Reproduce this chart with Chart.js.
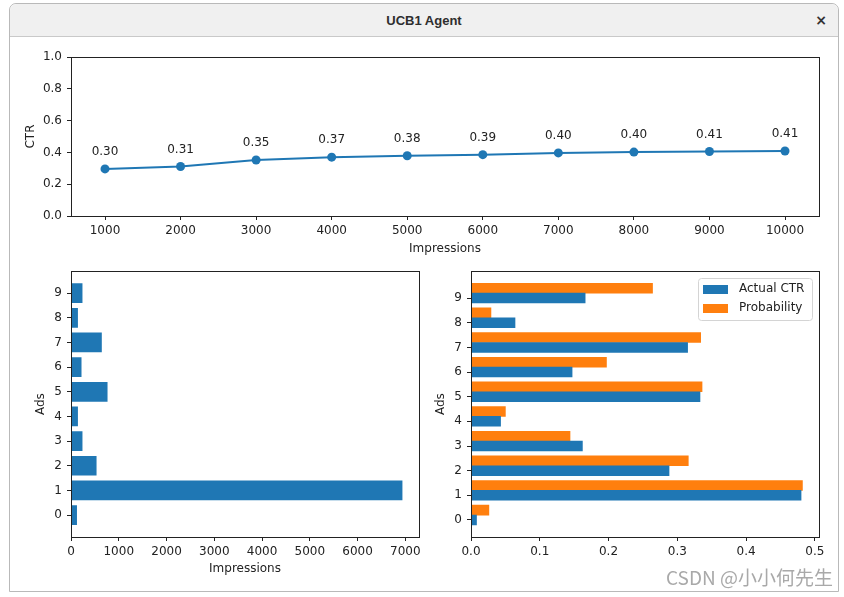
<!DOCTYPE html>
<html><head><meta charset="utf-8">
<script src="https://cdn.jsdelivr.net/npm/chart.js@4/dist/chart.umd.min.js"></script>
<style>
html,body{margin:0;padding:0;background:#fff;width:844px;height:597px;overflow:hidden;}
#win{position:absolute;left:9px;top:3px;width:830px;height:589px;border:1px solid #b9b9b9;border-radius:7px 7px 0 0;background:#fff;box-sizing:border-box;}
#bar{position:absolute;left:0;top:0;right:0;height:32px;background:#f0f0f0;border-bottom:1px solid #c9c9c9;border-radius:7px 7px 0 0;}
#title{position:absolute;left:0;right:0;top:0;height:32px;text-align:center;font:bold 13px "Liberation Sans";line-height:33px;color:#2e2e2e;}
#close{position:absolute;right:11px;top:0;font:bold 14px "DejaVu Sans";line-height:33px;color:#333;}
canvas{position:absolute;}
#wm{position:absolute;right:11px;top:563px;font:19px "Noto Sans CJK SC";color:#a9a9a9;white-space:nowrap;}
</style></head>
<body>
<div id="win"><div id="bar"><div id="title">UCB1 Agent</div><div id="close">×</div></div></div>
<canvas id="c1" width="844" height="220" style="left:0;top:40px"></canvas>
<canvas id="c2" width="430" height="321" style="left:0;top:259px"></canvas>
<canvas id="c3" width="414" height="321" style="left:430px;top:259px"></canvas>
<div id="wm">CSDN @小小何先生</div>
<script>
// ---- data ----
const impressionSteps = [1000, 2000, 3000, 4000, 5000, 6000, 7000, 8000, 9000, 10000];
const ctrValues = [0.296, 0.311, 0.352, 0.370, 0.379, 0.386, 0.397, 0.402, 0.406, 0.409];
const ctrLabels = ['0.30', '0.31', '0.35', '0.37', '0.38', '0.39', '0.40', '0.40', '0.41', '0.41'];
const ctrAxisTicks = [0, 0.2, 0.4, 0.6, 0.8, 1.0];
const adLabels = ['0', '1', '2', '3', '4', '5', '6', '7', '8', '9'];
const adImpressions = [125, 6940, 535, 240, 145, 765, 220, 645, 145, 240];
const actualCtr = [0.008, 0.480, 0.288, 0.162, 0.043, 0.333, 0.147, 0.315, 0.064, 0.166];
const probability = [0.026, 0.482, 0.316, 0.144, 0.050, 0.336, 0.197, 0.334, 0.029, 0.264];
const seriesNames = ['Actual CTR', 'Probability'];
const impressionTicks = [0, 1000, 2000, 3000, 4000, 5000, 6000, 7000];
const ctrTicks = [0, 0.1, 0.2, 0.3, 0.4, 0.5];

const BLUE = '#1f77b4', ORANGE = '#ff7f0e', INK = '#222';
Chart.defaults.font.family = 'DejaVu Sans';
Chart.defaults.font.size = 12;
Chart.defaults.color = INK;

const framePlugin = {
  id: 'frame',
  afterDatasetsDraw(chart) {
    const {ctx, chartArea: a} = chart;
    const l = Math.round(a.left - 0.5) + 0.5, t = Math.round(a.top - 0.5) + 0.5;
    const r = Math.round(a.right - 0.5) + 0.5, b = Math.round(a.bottom - 0.5) + 0.5;
    ctx.save();
    ctx.strokeStyle = INK; ctx.lineWidth = 1;
    ctx.strokeRect(l, t, r - l, b - t);
    ctx.restore();
  }
};

function axisBase(title, padding, cb) {
  return {
    offset: false,
    border: {display: false},
    grid: {display: true, offset: false, drawOnChartArea: false, drawTicks: true, tickLength: 4, color: INK, lineWidth: 1},
    ticks: {color: INK, padding: padding, font: {size: 12}, autoSkip: false, maxRotation: 0, callback: cb},
    title: {display: !!title, text: title, color: INK, font: {size: 12}, padding: {top: 4, bottom: 4}}
  };
}
function margins(lo, hi) { const m = (hi - lo) * 0.05; return [lo - m, hi + m]; }
const asText = v => String(v);
const oneDec = v => Number(v).toFixed(1);
const adName = v => adLabels[Math.round(v)];

// ---- top: CTR line ----
const [x1min, x1max] = margins(impressionSteps[0], impressionSteps[impressionSteps.length - 1]);
const labelPlugin = {
  id: 'ptlabels',
  afterDatasetsDraw(chart) {
    const {ctx} = chart;
    const meta = chart.getDatasetMeta(0);
    ctx.save();
    ctx.font = '12px "DejaVu Sans"'; ctx.fillStyle = INK;
    ctx.textAlign = 'center'; ctx.textBaseline = 'middle';
    meta.data.forEach((pt, i) => ctx.fillText(ctrLabels[i], pt.x, pt.y - 17));
    ctx.restore();
  }
};
new Chart(document.getElementById('c1'), {
  type: 'line',
  data: {datasets: [{
    data: impressionSteps.map((x, i) => ({x: x, y: ctrValues[i]})),
    borderColor: BLUE, backgroundColor: BLUE, borderWidth: 2,
    pointRadius: 4.5, pointBorderWidth: 0, pointBackgroundColor: BLUE, tension: 0
  }]},
  options: {
    responsive: false, animation: false,
    layout: {padding: {left: 20, right: 25, top: 17, bottom: 0}},
    plugins: {legend: {display: false}, tooltip: {enabled: false}},
    scales: {
      x: Object.assign(axisBase('Impressions', 4, asText), {
        type: 'linear', min: x1min, max: x1max,
        afterBuildTicks: s => { s.ticks = impressionSteps.map(v => ({value: v})); },
        afterFit: s => { s.height = 44; }
      }),
      y: Object.assign(axisBase('CTR', 5, oneDec), {
        type: 'linear', min: 0, max: 1,
        afterBuildTicks: s => { s.ticks = ctrAxisTicks.map(v => ({value: v})); },
        afterFit: s => { s.width = 51; }
      })
    }
  },
  plugins: [framePlugin, labelPlugin]
});

// ---- bottom left: impressions per ad ----
new Chart(document.getElementById('c2'), {
  type: 'bar',
  data: {datasets: [{
    data: adImpressions.map((v, i) => ({x: v, y: i})),
    backgroundColor: BLUE, borderWidth: 0,
    categoryPercentage: 0.8, barPercentage: 1
  }]},
  options: {
    responsive: false, animation: false, indexAxis: 'y',
    layout: {padding: {left: 30, right: 11, top: 11, bottom: 0}},
    plugins: {legend: {display: false}, tooltip: {enabled: false}},
    scales: {
      x: Object.assign(axisBase('Impressions', 4, asText), {
        type: 'linear', min: 0, max: Math.max(...adImpressions) * 1.05,
        afterBuildTicks: s => { s.ticks = impressionTicks.map(v => ({value: v})); },
        afterFit: s => { s.height = 43; }
      }),
      y: Object.assign(axisBase('Ads', 5, adName), {
        type: 'linear', min: -0.4 - 0.49, max: adLabels.length - 1 + 0.4 + 0.49,
        afterBuildTicks: s => { s.ticks = adLabels.map((_, i) => ({value: i})); },
        afterFit: s => { s.width = 41; }
      })
    }
  },
  plugins: [framePlugin]
});

// ---- bottom right: actual CTR vs probability ----
const legendPlugin = {
  id: 'inlegend',
  afterDraw(chart) {
    const {ctx, chartArea: a} = chart;
    const ds = chart.data.datasets;
    ctx.save();
    ctx.font = '12px "DejaVu Sans"';
    const tw = Math.max(...ds.map(d => ctx.measureText(d.label).width));
    const w = Math.round(41 + tw + 8), h = 42;
    const x = Math.round(a.right - 7 - w), y = Math.round(a.top + 7);
    ctx.fillStyle = 'rgba(255,255,255,0.8)';
    ctx.strokeStyle = '#d4d4d4'; ctx.lineWidth = 1;
    ctx.beginPath();
    if (ctx.roundRect) ctx.roundRect(x + 0.5, y + 0.5, w, h, 3); else ctx.rect(x + 0.5, y + 0.5, w, h);
    ctx.fill(); ctx.stroke();
    ds.forEach((d, i) => {
      const cy = y + 11 + i * 19;
      ctx.fillStyle = d.backgroundColor;
      ctx.fillRect(x + 5, Math.round(cy - 4.5), 25, 9);
      ctx.fillStyle = INK; ctx.textAlign = 'left'; ctx.textBaseline = 'middle';
      ctx.fillText(d.label, x + 41, cy);
    });
    ctx.restore();
  }
};
const barW = 0.4;
new Chart(document.getElementById('c3'), {
  type: 'bar',
  data: {datasets: [
    {label: seriesNames[0], data: actualCtr.map((v, i) => ({x: v, y: i})),
     backgroundColor: BLUE, borderWidth: 0, grouped: false, categoryPercentage: 1, barPercentage: 1},
    {label: seriesNames[1], data: probability.map((v, i) => ({x: v, y: i + barW})),
     backgroundColor: ORANGE, borderWidth: 0, grouped: false, categoryPercentage: 1, barPercentage: 1}
  ]},
  options: {
    responsive: false, animation: false, indexAxis: 'y',
    layout: {padding: {left: 0, right: 25, top: 11, bottom: 0}},
    plugins: {legend: {display: false}, tooltip: {enabled: false}},
    scales: {
      x: Object.assign(axisBase('', 4, oneDec), {
        type: 'linear', min: 0, max: Math.max(...actualCtr, ...probability) * 1.05,
        afterBuildTicks: s => { s.ticks = ctrTicks.map(v => ({value: v})); },
        afterFit: s => { s.height = 43; }
      }),
      y: Object.assign(axisBase('Ads', 5, adName), {
        type: 'linear', min: -barW / 2 - 0.49, max: adLabels.length - 1 + barW * 1.5 + 0.49,
        afterBuildTicks: s => { s.ticks = adLabels.map((_, i) => ({value: i})); },
        afterFit: s => { s.width = 41; }
      })
    }
  },
  plugins: [framePlugin, legendPlugin]
});
</script>
</body></html>
